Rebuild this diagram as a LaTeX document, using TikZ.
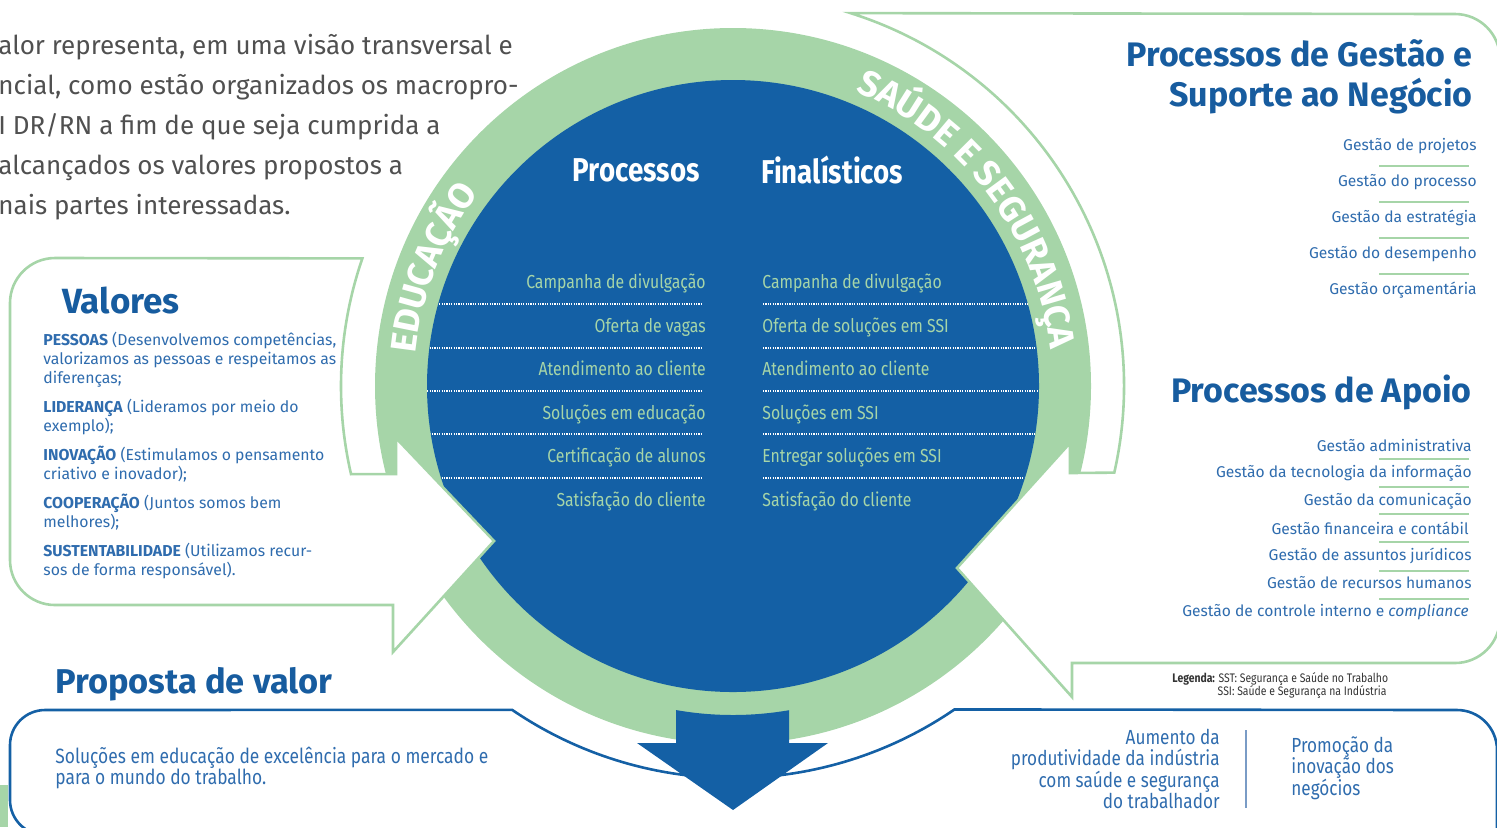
\documentclass[tikz,border=0pt]{standalone}
\usepackage{fontspec}
\setmainfont{Fira Sans}
\newfontfamily\condfont{Fira Sans}[FakeStretch=0.84]
\usetikzlibrary{positioning, calc, decorations.text}
\definecolor{azul}{HTML}{1460A5}
\definecolor{verde}{HTML}{A6D5A8}
\definecolor{titulo}{HTML}{175C9F}
\definecolor{texto}{HTML}{2F6CAE}
\definecolor{cinza}{HTML}{505050}
\definecolor{fio}{HTML}{7A9CC6}
\tikzset{
  balao/.style={
    fill=white,
    draw=verde,
    line width=1.3pt,
    line join=miter
  },
  caixa/.style={
    draw=azul,
    line width=1.3pt
  },
  itemesq/.style={
    anchor=east,
    inner sep=0pt,
    text=verde,
    font=\condfont\fontsize{9.4}{9.4}\selectfont,
    text height=1.5ex,
    text depth=.3ex
  },
  itemdir/.style={itemesq, anchor=west},
  pontilhado/.style={
    draw=white,
    line width=0.6pt,
    dash pattern=on 0.6pt off 0.6pt
  },
  gestao/.style={
    anchor=east,
    inner sep=0pt,
    text=texto,
    font=\fontsize{7.8}{7.8}\selectfont
  },
  separador/.style={draw=verde, line width=0.9pt},
  titulo/.style={
    text=titulo,
    inner sep=0pt,
    font=\bfseries\fontsize{17}{20}\selectfont
  },
  anel/.style={
    decorate,
    decoration={text along path, text align=center, text color=white}
  }
}

\begin{document}
\begin{tikzpicture}[x=0.5pt, y=-0.5pt]
\useasboundingbox (0,0) rectangle (1497,827);
\coordinate (c) at (733,386);

% circulo
\fill[verde] (c) circle (358);
\fill[azul] (c) circle (306);

\begin{scope}
\clip (c) circle (306);
\foreach \y in {304,348,391,434,478}{
  \draw[pontilhado] (420,\y) -- (701,\y);
  \draw[pontilhado] (763,\y) -- (1050,\y);
}
\end{scope}

\node[text=white, anchor=east, inner sep=0pt, font=\condfont\bfseries\fontsize{16.5}{16.5}\selectfont] (proc) at (700,170) {Processos};
\node[text=white, anchor=west, inner sep=0pt, font=\condfont\bfseries\fontsize{16.5}{16.5}\selectfont] (final) at (761,170) {Finalísticos};

%% educacao
\node[itemesq] (e1) at (706,282) {Campanha de divulgação};
\node[itemesq] (e2) at (706,326) {Oferta de vagas};
\node[itemesq] (e3) at (706,369) {Atendimento ao cliente};
\node[itemesq] (e4) at (706,413) {Soluções em educação};
\node[itemesq] (e5) at (706,456) {Certificação de alunos};
\node[itemesq] (e6) at (706,500) {Satisfação do cliente};

%% ssi
\node[itemdir] (d1) at (762,282) {Campanha de divulgação};
\node[itemdir] (d2) at (762,326) {Oferta de soluções em SSI};
\node[itemdir] (d3) at (762,369) {Atendimento ao cliente};
\node[itemdir] (d4) at (762,413) {Soluções em SSI};
\node[itemdir] (d5) at (762,456) {Entregar soluções em SSI};
\node[itemdir] (d6) at (762,500) {Satisfação do cliente};

%% anel
\path[anel, decoration={text={|\bfseries\fontsize{18}{18}\selectfont|EDUCAÇÃO}}]
  ($(c)+(165:319)$) arc[start angle=165, end angle=238, radius=319];
\path[anel, decoration={text={|\bfseries\fontsize{18}{18}\selectfont|SAÚDE E SEGURANÇA}}]
  ($(c)+(-82:319)$) arc[start angle=-82, end angle=8, radius=319];

% valores
\draw[balao] ($(c)+(199:392)$) arc[start angle=199, end angle=167, radius=392]
  -- (396,474) -- (396,438) -- (494,541) -- (393,652) -- (393,605)
  -- (55,605) arc[start angle=90, end angle=180, radius=45]
  -- (10,303) arc[start angle=180, end angle=270, radius=45] -- cycle;

\node[titulo, anchor=west, font=\bfseries\fontsize{17.5}{17.5}\selectfont] (valores) at (62,300) {Valores};
\node[anchor=west, align=left, text=texto, inner sep=0pt, font=\fontsize{7.9}{9.5}\selectfont] (lista) at (43,455)
{ \textbf{PESSOAS} (Desenvolvemos competências,\\
  valorizamos as pessoas e respeitamos as\\
  diferenças;\\[5pt]
  \textbf{LIDERANÇA} (Lideramos por meio do\\
  exemplo);\\[5pt]
  \textbf{INOVAÇÃO} (Estimulamos o pensamento\\
  criativo e inovador);\\[5pt]
  \textbf{COOPERAÇÃO} (Juntos somos bem\\
  melhores);\\[5pt]
  \textbf{SUSTENTABILIDADE} (Utilizamos recur-\\
  sos de forma responsável).
};

% gestao e apoio
\draw[balao] ($(c)+(-72.5:391)$) -- (1455,14) arc[start angle=270, end angle=360, radius=45]
  -- (1500,618) arc[start angle=0, end angle=90, radius=45]
  -- (1072,663) -- (1072,697) -- (957,568) -- (1070,443) -- (1070,473)
  -- ($(c)+(12.8:391)$) arc[start angle=12.8, end angle=-72.5, radius=391] -- cycle;

\node[titulo, anchor=east, align=right] (gestao) at (1473,77) {Processos de Gestão e\\ Suporte ao Negócio};
\node[gestao] (g1) at (1477,146) {Gestão de projetos};
\node[gestao] (g2) at (1477,182) {Gestão do processo};
\node[gestao] (g3) at (1477,218) {Gestão da estratégia};
\node[gestao] (g4) at (1477,254) {Gestão do desempenho};
\node[gestao] (g5) at (1477,290) {Gestão orçamentária};
\foreach \y in {166,202,238,274}
  \draw[separador] (1379,\y) -- (1469,\y);

\node[titulo, anchor=east] (apoio) at (1472,392) {Processos de Apoio};
\node[gestao] (a1) at (1472,445) {Gestão administrativa};
\node[gestao] (a2) at (1472,473) {Gestão da tecnologia da informação};
\node[gestao] (a3) at (1472,501) {Gestão da comunicação};
\node[gestao] (a4) at (1469,528) {Gestão financeira e contábil};
\node[gestao] (a5) at (1472,556) {Gestão de assuntos jurídicos};
\node[gestao] (a6) at (1472,583) {Gestão de recursos humanos};
\node[gestao] (a7) at (1469,612) {Gestão de controle interno e \textit{compliance}};
\foreach \y in {459,487,514,542,571,599}
  \draw[separador] (1379,\y) -- (1469,\y);

\node[anchor=west, align=left, text=black!80, inner sep=0pt, font=\condfont\fontsize{6.2}{6.5}\selectfont] (legenda) at (1172,686)
{ \textbf{Legenda:} SST: Segurança e Saúde no Trabalho\\
  \phantom{\textbf{Legenda:}} SSI: Saúde e Segurança na Indústria };

% proposta de valor
\fill[verde] (0,785) rectangle (8,827);
\draw[caixa] ($(c)+(96:392)$) arc[start angle=96, end angle=124.3, radius=392]
  -- (45,710) arc[start angle=270, end angle=180, radius=35]
  -- (10,800) arc[start angle=180, end angle=90, radius=35] -- (100,835);
\draw[caixa] ($(c)+(85:392)$) arc[start angle=85, end angle=55.6, radius=392]
  -- (1457,710) arc[start angle=270, end angle=360, radius=40] -- (1497,835);

\fill[azul] (676,710) -- (676,743) -- (637,743) -- (733,810) -- (828,743) -- (789,743)
  -- ($(c)+(80.2:329)$) arc[start angle=80.2, end angle=100, radius=329] -- cycle;

\node[titulo, anchor=west, font=\bfseries\fontsize{17.2}{17.2}\selectfont] (proposta) at (55,684) {Proposta de valor};
\node[anchor=west, align=left, text=texto, inner sep=0pt, font=\condfont\fontsize{10.35}{10.5}\selectfont] (solucoes) at (55,768)
{ Soluções em educação de excelência para o mercado e\\ para o mundo do trabalho. };

\node[anchor=east, align=right, text=texto, inner sep=0pt, font=\condfont\fontsize{10.2}{10.75}\selectfont] (aumento) at (1220,769)
{ Aumento da\\ produtividade da indústria\\ com saúde e segurança\\ do trabalhador };
\draw[fio, line width=0.8pt] (1246,730) -- (1246,808);
\node[anchor=west, align=left, text=texto, inner sep=0pt, font=\condfont\fontsize{10.2}{10.75}\selectfont] (promocao) at (1291,768)
{ Promoção da\\ inovação dos\\ negócios };

% introducao
\node[anchor=west, align=left, text=cinza, inner sep=0pt, font=\fontsize{13}{20}\selectfont] (intro) at (-2,127)
{ alor representa, em uma visão transversal e\\
  ncial, como estão organizados os macropro-\\
  I DR/RN a fim de que seja cumprida a\\
  alcançados os valores propostos a\\
  nais partes interessadas. };

\end{tikzpicture}
\end{document}
